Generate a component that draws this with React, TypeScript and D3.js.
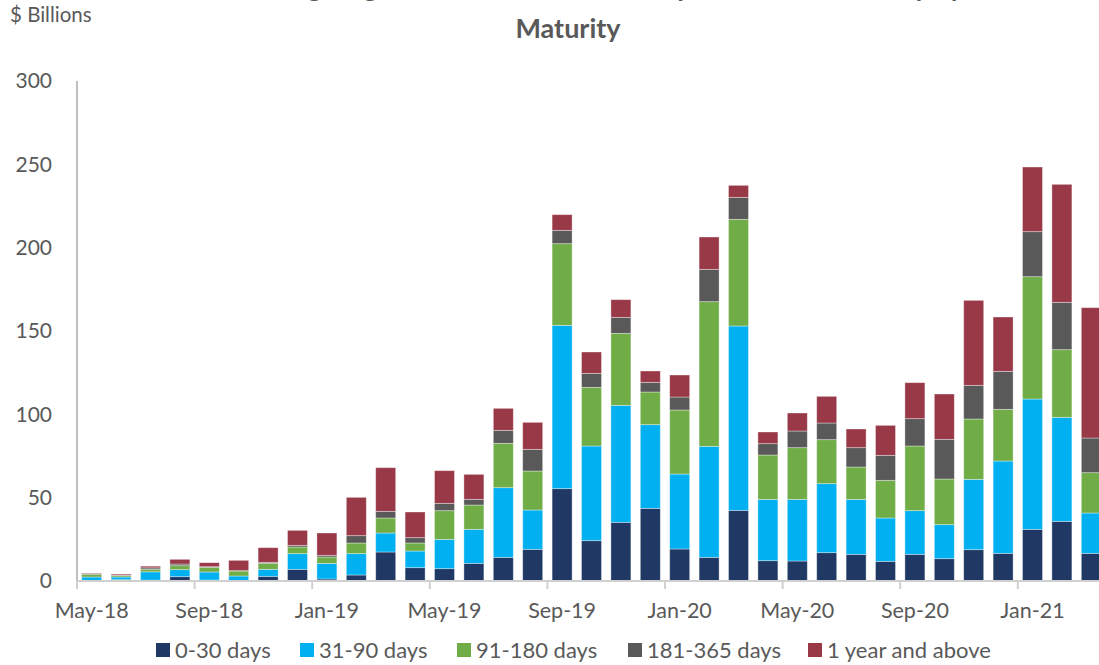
import React from "react";
import * as d3 from "d3";

const months = [
  "May-18","Jun-18","Jul-18","Aug-18","Sep-18","Oct-18","Nov-18","Dec-18",
  "Jan-19","Feb-19","Mar-19","Apr-19","May-19","Jun-19","Jul-19","Aug-19",
  "Sep-19","Oct-19","Nov-19","Dec-19","Jan-20","Feb-20","Mar-20","Apr-20",
  "May-20","Jun-20","Jul-20","Aug-20","Sep-20","Oct-20","Nov-20","Dec-20",
  "Jan-21","Feb-21","Mar-21",
];

const d0_30 = [0.2,0.8,0.5,2.6,0.6,0,2.8,7.0,1.2,3.6,17.4,8.0,7.4,10.6,14.2,19.0,55.4,24.2,35.2,43.6,19.2,14.2,42.4,12.2,12.0,17.0,16.0,11.8,16.0,13.4,18.8,16.6,31.0,35.8,16.6];
const d31_90 = [2.2,1.6,5.0,4.2,4.8,3.0,4.2,9.4,9.4,12.8,11.4,10.0,17.6,20.4,41.8,23.6,98.0,56.8,70.2,50.2,45.0,66.6,110.6,36.8,37.0,41.4,33.0,26.0,26.2,20.4,42.2,55.4,78.2,62.4,24.2];
const d91_180 = [1.6,0.8,1.6,2.4,2.8,3.0,3.6,4.0,3.8,6.4,9.0,4.8,17.2,14.6,26.6,23.4,49.0,35.2,43.2,19.6,38.4,86.8,64.0,26.6,31.0,26.4,19.4,22.6,38.8,27.4,36.2,31.0,73.4,40.6,24.2];
const d181_365 = [0.4,0.4,0.8,1.0,0.4,0.2,0.6,1.0,1.0,4.4,4.0,3.2,4.4,3.4,7.8,13.0,8.0,8.4,9.6,5.8,7.8,19.4,13.2,6.8,10.0,10.0,11.6,15.0,16.4,23.8,20.2,22.8,27.0,28.4,20.8];
const d1y = [0.4,0.6,1.0,2.8,2.4,6.2,8.8,9.0,13.4,23.0,26.2,15.4,19.6,15.0,13.2,16.2,9.4,12.8,10.6,6.8,13.2,19.4,7.2,7.0,10.8,16.0,11.2,18.0,21.6,27.2,51.0,32.6,38.8,70.8,78.2];

const seriesNames = ["0-30 days","31-90 days","91-180 days","181-365 days","1 year and above"];
const seriesColors = ["#203864","#00B0F0","#70AD47","#595959","#993847"];
const yTicks = [0,50,100,150,200,250,300];

const titleLine1 = "Outstanding Negotiable Certificates of Deposit Issued Monthly by";
const titleLine2 = "Maturity";
const unitLabel = "$ Billions";

const FONT = "Lato, 'Open Sans', sans-serif";
const TXT = "#595959";

export default function App() {
  const W = 1099, H = 665;
  const left = 77, base = 581, top = 81;
  const step = 29.4;
  const x = d3.scaleBand<string>().domain(months).range([left, left + step * months.length]).paddingInner(0.32).paddingOuter(0.16);
  const y = d3.scaleLinear().domain([0, 300]).range([base, top]);

  const rows = months.map((m, i) => ({
    month: m,
    s0: d0_30[i], s1: d31_90[i], s2: d91_180[i], s3: d181_365[i], s4: d1y[i],
  }));
  const keys = ["s0","s1","s2","s3","s4"];
  const stack = d3.stack<any>().keys(keys)(rows);

  const legendX = [156, 300, 457, 628, 808];

  return (
    <svg width={W} height={H} style={{ position: "absolute", left: 0, top: 0, display: "block" }} fontFamily={FONT}>
      <rect width={W} height={H} fill="#fff" />
      {/* title */}
      <text x={568} y={-3} textAnchor="middle" fontSize={27} fontWeight="bold" fill={TXT}>{titleLine1}</text>
      <text x={568} y={38} textAnchor="middle" fontSize={27} fontWeight="bold" fill={TXT}>{titleLine2}</text>
      <text x={10} y={22} fontSize={20.5} fill={TXT}>{unitLabel}</text>

      {/* y axis labels */}
      {yTicks.map((t) => (
        <text key={t} x={52} y={y(t)} dy="0.35em" textAnchor="end" fontSize={21} fill={TXT}>{t}</text>
      ))}

      {/* bars */}
      {stack.map((layer, si) => (
        <g key={si} fill={seriesColors[si]}>
          {layer.map((d, i) => (
            <rect key={i} x={x(months[i])} width={x.bandwidth()} y={y(d[1])} height={Math.max(0, y(d[0]) - y(d[1]))}
              stroke="#ffffff" strokeOpacity={0.45} strokeWidth={0.8} />
          ))}
        </g>
      ))}

      {/* axes */}
      <line x1={left} x2={left} y1={top} y2={base} stroke="#BFBFBF" strokeWidth={2} />
      <line x1={left} x2={W + 20} y1={base} y2={base} stroke="#D0D0D0" strokeWidth={2} />
      {months.map((m, i) => i % 4 === 0 ? (
        <g key={m}>
          <line x1={(x(m) as number) - step * 0.16} x2={(x(m) as number) - step * 0.16} y1={base} y2={base + 8} stroke="#D0D0D0" strokeWidth={2} />
          <text x={(x(m) as number) + x.bandwidth() / 2} y={610} dy="0.35em" textAnchor="middle" fontSize={21.5} fill={TXT}>{m}</text>
        </g>
      ) : null)}

      {/* legend */}
      {seriesNames.map((n, i) => (
        <g key={n}>
          <rect x={legendX[i]} y={643} width={14} height={14} fill={seriesColors[i]} />
          <text x={legendX[i] + 19} y={650} dy="0.35em" fontSize={22} fill={TXT}>{n}</text>
        </g>
      ))}
    </svg>
  );
}
